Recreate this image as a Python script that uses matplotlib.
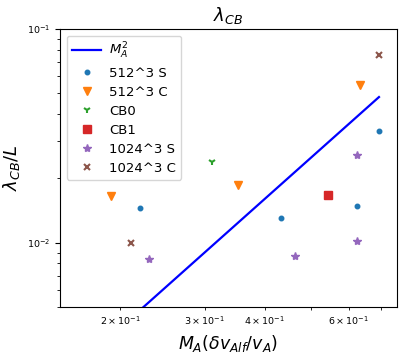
import matplotlib
matplotlib.use('Agg')
import matplotlib.pyplot as plt
import numpy as np

# M_A values and lambda_CB/L
ma_512_s = [0.220, 0.432, 0.623, 0.693]
lam_512_s = [0.0145, 0.0131, 0.0148, 0.0332]

ma_512_c = [0.191, 0.352, 0.632]
lam_512_c = [0.0165, 0.0187, 0.0545]

ma_cb0 = [0.311]
lam_cb0 = [0.0238]

ma_cb1 = [0.542]
lam_cb1 = [0.0168]

ma_1024_s = [0.230, 0.463, 0.623, 0.623]
lam_1024_s = [0.0084, 0.0087, 0.0256, 0.0102]

ma_1024_c = [0.211, 0.693]
lam_1024_c = [0.0100, 0.0755]

# reference line ~ M_A^2, spans the data range
line_x = np.array([0.191, 0.693])
line_y = 0.1 * line_x ** 2

fig, ax = plt.subplots(figsize=(4.07, 3.53), dpi=100)

ax.plot(line_x, line_y, color='blue', linewidth=1.6, label=r'$M_A^2$')
ax.plot(ma_512_s, lam_512_s, '.', color='C0', markersize=6.5, label='512^3 S')
ax.plot(ma_512_c, lam_512_c, 'v', color='C1', markersize=5.5, label='512^3 C')
ax.plot(ma_cb0, lam_cb0, '1', color='C2', markersize=5, markeredgewidth=1.5,
        label='CB0')
ax.plot(ma_cb1, lam_cb1, 's', color='C3', markersize=5.5, label='CB1')
ax.plot(ma_1024_s, lam_1024_s, '*', color='C4', markersize=6,
        label='1024^3 S')
ax.plot(ma_1024_c, lam_1024_c, 'x', color='C5', markersize=4.5,
        markeredgewidth=1.5, label='1024^3 C')

ax.set_xscale('log')
ax.set_yscale('log')
ax.set_xlim(0.15, 0.755)
ax.set_ylim(0.005, 0.1)

ax.tick_params(labelsize=6.8, which='both')
ax.set_title(r'$\lambda_{CB}$', fontsize=13)
ax.set_xlabel(r'$M_A(\delta v_{Alf}/v_A)$', fontsize=12.5)
ax.set_ylabel(r'$\lambda_{CB}/L$', fontsize=13)
ax.legend(loc='upper left', fontsize=9.5, labelspacing=0.45,
          handlelength=2.2, handletextpad=0.6)

fig.subplots_adjust(left=0.148, right=0.975, top=0.918, bottom=0.13)
fig.savefig('out.png', dpi=100)
